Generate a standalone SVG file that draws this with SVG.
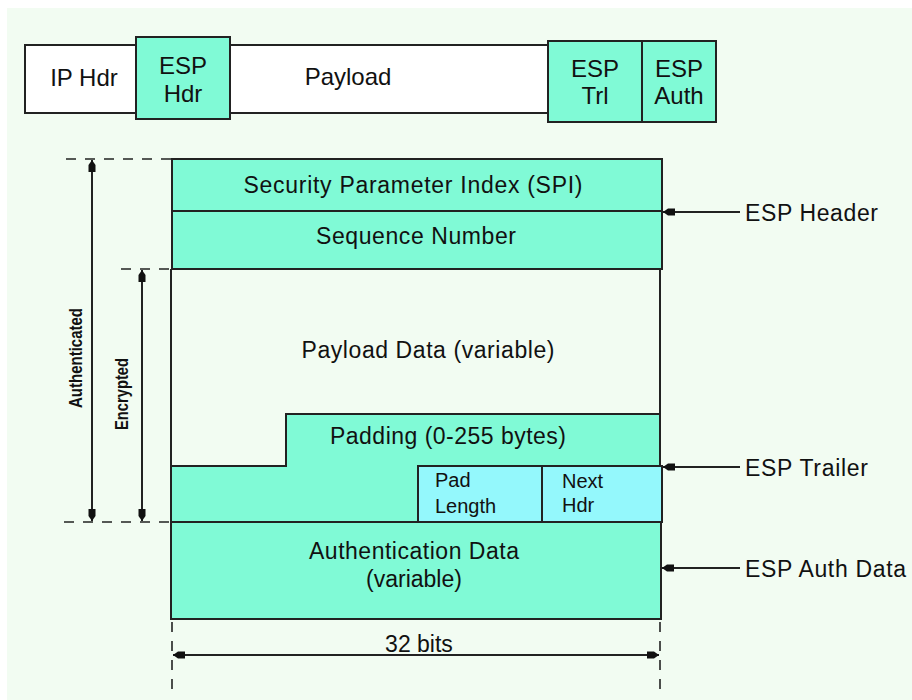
<svg xmlns="http://www.w3.org/2000/svg" width="912" height="700" viewBox="0 0 912 700">
<style>
text{font-family:"Liberation Sans",Arial,sans-serif;fill:#111;}
.t23{font-size:24px;text-anchor:middle;}
.t22{font-size:23px;text-anchor:middle;}
.t20{font-size:20px;}
.lbl{font-size:23px;}
.vt{font-size:19px;text-anchor:middle;font-weight:bold;}
.box{stroke:#222;stroke-width:2;}
.aq{fill:#80FAD6;}
.cy{fill:#94F8FC;}
.wh{fill:#FFFFFF;}
.ln{stroke:#222;stroke-width:2;fill:none;}
.dash{stroke:#222;stroke-width:1.6;fill:none;stroke-dasharray:10 9;}
</style>
<defs>
<marker id="ah" markerUnits="userSpaceOnUse" markerWidth="12" markerHeight="10" refX="12" refY="5" orient="auto-start-reverse">
<path d="M0,1.5 L7,1.5 L12,5 L7,8.5 L0,8.5 z" fill="#111"/>
</marker>
</defs>
<rect x="0" y="0" width="912" height="700" fill="#FFFFFF"/>
<rect x="7" y="8" width="905" height="692" fill="#F2FCF2"/>

<g id="ip-hdr">
<rect class="box wh" x="25" y="45" width="111" height="68"/>
<text class="t23" x="84" y="86">IP Hdr</text>
</g>
<g id="payload-top">
<rect class="box wh" x="230" y="45" width="318" height="68"/>
<text class="t23" x="348" y="85">Payload</text>
</g>
<g id="esp-hdr">
<rect class="box aq" x="136" y="37" width="94" height="82"/>
<text class="t23" x="183" y="74">ESP</text>
<text class="t23" x="183" y="102">Hdr</text>
</g>
<g id="esp-trl">
<rect class="box aq" x="548" y="41" width="94" height="81"/>
<text class="t23" x="595" y="77">ESP</text>
<text class="t23" x="595" y="104">Trl</text>
</g>
<g id="esp-auth">
<rect class="box aq" x="642" y="41" width="74" height="81"/>
<text class="t23" x="679" y="77">ESP</text>
<text class="t23" x="679" y="104">Auth</text>
</g>

<g id="spi">
<rect class="box aq" x="172" y="159" width="490" height="52"/>
<text class="t22" x="413" y="193" textLength="339" lengthAdjust="spacing">Security Parameter Index (SPI)</text>
</g>
<g id="seq">
<rect class="box aq" x="172" y="211" width="490" height="58"/>
<text class="t22" x="416" y="244" textLength="200" lengthAdjust="spacing">Sequence Number</text>
</g>
<g id="payload-data">
<path class="ln" d="M171,269 L171,522 M660,269 L660,414"/>
<text class="t22" x="428" y="358" textLength="253" lengthAdjust="spacing">Payload Data (variable)</text>
</g>
<g id="padding">
<path class="box aq" d="M171,466 L286,466 L286,414 L660,414 L660,522 L171,522 z"/>
<text class="t22" x="448" y="444" textLength="236" lengthAdjust="spacing">Padding (0-255 bytes)</text>
</g>
<g id="pad-length">
<rect class="box cy" x="418" y="466" width="124" height="56"/>
<text class="t20" x="435" y="487">Pad</text>
<text class="t20" x="435" y="513">Length</text>
</g>
<g id="next-hdr">
<rect class="box cy" x="542" y="466" width="120" height="56"/>
<text class="t20" x="562" y="488">Next</text>
<text class="t20" x="562" y="512">Hdr</text>
</g>
<g id="auth-data">
<rect class="box aq" x="171" y="522" width="490" height="97"/>
<text class="t22" x="414" y="559" textLength="210" lengthAdjust="spacing">Authentication Data</text>
<text class="t22" x="414" y="587">(variable)</text>
</g>

<g id="labels">
<text class="lbl" x="745" y="221" textLength="133" lengthAdjust="spacing">ESP Header</text>
<text class="lbl" x="745" y="476" textLength="123" lengthAdjust="spacing">ESP Trailer</text>
<text class="lbl" x="745" y="577" textLength="161" lengthAdjust="spacing">ESP Auth Data</text>
<text class="vt" transform="translate(82,358) rotate(-90)" textLength="100" lengthAdjust="spacingAndGlyphs">Authenticated</text>
<text class="vt" transform="translate(128,394) rotate(-90)" textLength="72" lengthAdjust="spacingAndGlyphs">Encrypted</text>
<text class="t22" x="419" y="652">32 bits</text>
</g>

<g id="connectors">
<line class="ln" x1="740" y1="212" x2="663" y2="212" marker-end="url(#ah)"/>
<line class="ln" x1="740" y1="467" x2="663" y2="467" marker-end="url(#ah)"/>
<line class="ln" x1="740" y1="568" x2="662" y2="568" marker-end="url(#ah)"/>
<line class="dash" x1="66" y1="159" x2="172" y2="159"/>
<line class="dash" x1="121" y1="269" x2="172" y2="269"/>
<line class="dash" x1="64" y1="522" x2="170" y2="522"/>
<line class="ln" x1="92" y1="160" x2="92" y2="521" marker-start="url(#ah)" marker-end="url(#ah)"/>
<line class="ln" x1="142" y1="270" x2="142" y2="521" marker-start="url(#ah)" marker-end="url(#ah)"/>
<line class="dash" x1="172" y1="622" x2="172" y2="690"/>
<line class="dash" x1="660" y1="622" x2="660" y2="690"/>
<line class="ln" x1="173" y1="655" x2="659" y2="655" marker-start="url(#ah)" marker-end="url(#ah)"/>
</g>
</svg>
